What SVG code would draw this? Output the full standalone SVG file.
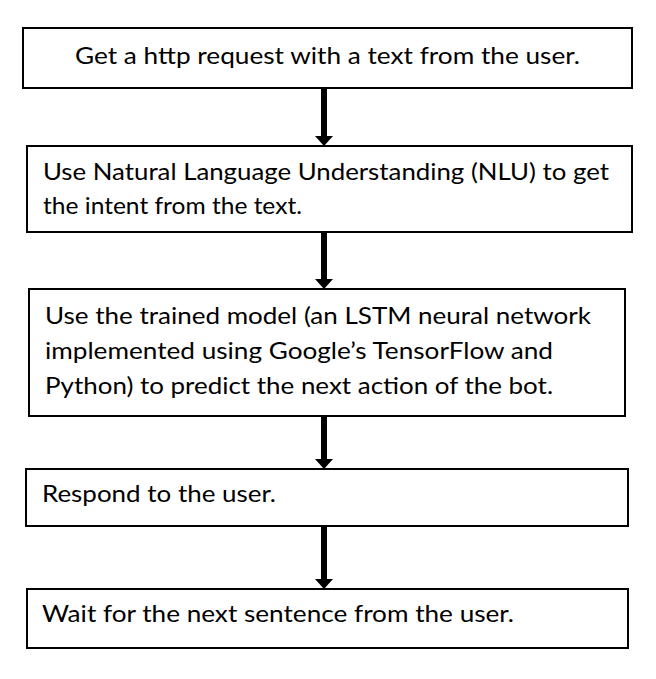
<svg xmlns="http://www.w3.org/2000/svg" width="656" height="679" viewBox="0 0 656 679">
<style>
.box{fill:#fff;stroke:#000;stroke-width:2}
.t{font-family:Lato,"Open Sans","Liberation Sans",sans-serif;font-size:24px;fill:#000}
.shaft{fill:#000}
</style>
<rect width="656" height="679" fill="#fff"/>
<g id="connectors">
<path class="shaft" d="M321,89 H327 V136 H333 L324,146 L315,136 H321 Z"/>
<path class="shaft" d="M321,230 H327 V279 H333 L324,289 L315,279 H321 Z"/>
<path class="shaft" d="M321,412 H327 V459 H333 L324,469 L315,459 H321 Z"/>
<path class="shaft" d="M321,526 H327 V579 H333 L324,589 L315,579 H321 Z"/>
</g>
<g id="n1">
<rect class="box" x="23" y="28" width="609" height="60"/>
<text class="t" x="75" y="64" textLength="505" lengthAdjust="spacingAndGlyphs">Get a http request with a text from the user.</text>
</g>
<g id="n2">
<rect class="box" x="27" y="146" width="605" height="86"/>
<text class="t" x="43" y="180" textLength="566" lengthAdjust="spacingAndGlyphs">Use Natural Language Understanding (NLU) to get</text>
<text class="t" x="43" y="214" textLength="259" lengthAdjust="spacingAndGlyphs">the intent from the text.</text>
</g>
<g id="n3">
<rect class="box" x="29" y="289" width="596" height="127"/>
<text class="t" x="45" y="324" textLength="546" lengthAdjust="spacingAndGlyphs">Use the trained model (an LSTM neural network</text>
<text class="t" x="45" y="359" textLength="508" lengthAdjust="spacingAndGlyphs">implemented using Google’s TensorFlow and</text>
<text class="t" x="45" y="394" textLength="508" lengthAdjust="spacingAndGlyphs">Python) to predict the next action of the bot.</text>
</g>
<g id="n4">
<rect class="box" x="26" y="469" width="602" height="57"/>
<text class="t" x="42" y="502" textLength="234" lengthAdjust="spacingAndGlyphs">Respond to the user.</text>
</g>
<g id="n5">
<rect class="box" x="27" y="589" width="601" height="59"/>
<text class="t" x="42" y="622" textLength="472" lengthAdjust="spacingAndGlyphs">Wait for the next sentence from the user.</text>
</g>
</svg>
